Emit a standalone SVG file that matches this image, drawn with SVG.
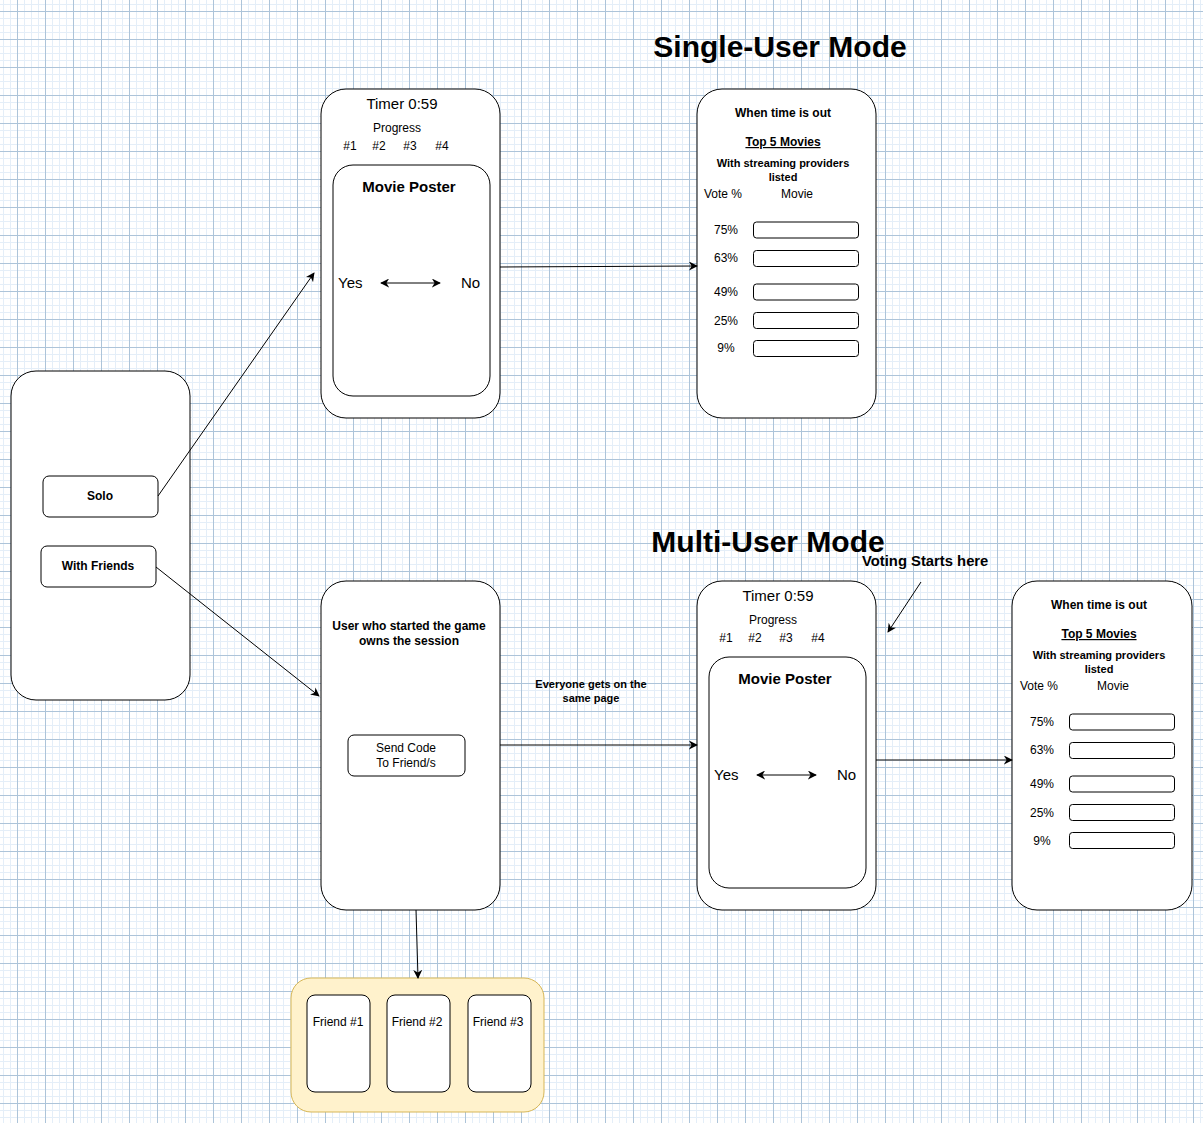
<svg xmlns="http://www.w3.org/2000/svg" width="1203" height="1123" viewBox="0 0 1203 1123">
<defs>
<pattern id="grid" patternUnits="userSpaceOnUse" x="17" y="11" width="28" height="28">
<rect width="28" height="28" fill="#ffffff"/>
<path d="M7.5 0V28M14.5 0V28M21.5 0V28M0 7.5H28M0 14.5H28M0 21.5H28" stroke="#e4eef8" stroke-width="1"/>
<path d="M0.5 0V28M0 0.5H28" stroke="#adc4d9" stroke-width="1"/>
</pattern>
<marker id="arr" viewBox="0 0 10 10" refX="9" refY="5" markerWidth="9" markerHeight="9" markerUnits="userSpaceOnUse" orient="auto">
<path d="M0 0L10 5L0 10L3 5Z" fill="#000"/>
</marker>
<marker id="arrs" viewBox="0 0 10 10" refX="1" refY="5" markerWidth="9" markerHeight="9" markerUnits="userSpaceOnUse" orient="auto">
<path d="M10 0L0 5L10 10L7 5Z" fill="#000"/>
</marker>
</defs>
<style>
.box{fill:#fff;stroke:#000;stroke-width:1}
.t{font-family:"Liberation Sans",Arial,sans-serif;fill:#000}
.c{text-anchor:middle}
.b{font-weight:bold}
.l{fill:none;stroke:#000;stroke-width:1}
</style>
<rect width="1203" height="1123" fill="url(#grid)"/>

<text class="t b c" x="780" y="57" font-size="30">Single-User Mode</text>
<text class="t b c" x="768" y="552" font-size="30">Multi-User Mode</text>
<text class="t b" x="862" y="566" font-size="14.8">Voting Starts here</text>

<g id="start">
<rect class="box" x="11" y="371" width="179" height="329" rx="25"/>
</g>
<g id="solo">
<rect class="box" x="43" y="476" width="115" height="41" rx="6"/>
<text class="t b c" x="100" y="500" font-size="12">Solo</text>
</g>
<g id="friends">
<rect class="box" x="41" y="546" width="115" height="41" rx="6"/>
<text class="t b c" x="98" y="570" font-size="12">With Friends</text>
</g>

<g id="single-vote">
<rect class="box" x="321" y="89" width="179" height="329" rx="25"/>
<text class="t c" x="402" y="109" font-size="15">Timer 0:59</text>
<text class="t c" x="397" y="132" font-size="12">Progress</text>
<text class="t c" x="350" y="150" font-size="12">#1</text>
<text class="t c" x="379" y="150" font-size="12">#2</text>
<text class="t c" x="410" y="150" font-size="12">#3</text>
<text class="t c" x="442" y="150" font-size="12">#4</text>
<rect class="box" x="333" y="165" width="157" height="231" rx="20"/>
<text class="t b c" x="409" y="192" font-size="15">Movie Poster</text>
<text class="t" x="338" y="288" font-size="15">Yes</text>
<text class="t" x="461" y="288" font-size="15">No</text>
<line class="l" x1="381" y1="283" x2="440" y2="283" marker-start="url(#arrs)" marker-end="url(#arr)"/>
</g>

<g id="single-result">
<rect class="box" x="697" y="89" width="179" height="329" rx="25"/>
<text class="t b c" x="783" y="117" font-size="12">When time is out</text>
<text class="t b c" x="783" y="146" font-size="12" text-decoration="underline">Top 5 Movies</text>
<text class="t b c" x="783" y="167" font-size="11">With streaming providers</text>
<text class="t b c" x="783" y="181" font-size="11">listed</text>
<text class="t" x="704" y="198" font-size="12">Vote %</text>
<text class="t" x="781" y="198" font-size="12">Movie</text>
<text class="t c" x="726" y="234" font-size="12">75%</text>
<text class="t c" x="726" y="262" font-size="12">63%</text>
<text class="t c" x="726" y="296" font-size="12">49%</text>
<text class="t c" x="726" y="325" font-size="12">25%</text>
<text class="t c" x="726" y="352" font-size="12">9%</text>
<rect class="box" x="753.5" y="222" width="105" height="16" rx="3"/>
<rect class="box" x="753.5" y="250.5" width="105" height="16" rx="3"/>
<rect class="box" x="753.5" y="284" width="105" height="16" rx="3"/>
<rect class="box" x="753.5" y="312.5" width="105" height="16" rx="3"/>
<rect class="box" x="753.5" y="340.5" width="105" height="16" rx="3"/>
</g>

<g id="session">
<rect class="box" x="321" y="581" width="179" height="329" rx="25"/>
<text class="t b c" x="409" y="630" font-size="12">User who started the game</text>
<text class="t b c" x="409" y="645" font-size="12">owns the session</text>
<rect class="box" x="348" y="735" width="117" height="41" rx="6"/>
<text class="t c" x="406" y="752" font-size="12">Send Code</text>
<text class="t c" x="406" y="767" font-size="12">To Friend/s</text>
</g>

<g id="multi-vote">
<rect class="box" x="697" y="581" width="179" height="329" rx="25"/>
<text class="t c" x="778" y="601" font-size="15">Timer 0:59</text>
<text class="t c" x="773" y="624" font-size="12">Progress</text>
<text class="t c" x="726" y="642" font-size="12">#1</text>
<text class="t c" x="755" y="642" font-size="12">#2</text>
<text class="t c" x="786" y="642" font-size="12">#3</text>
<text class="t c" x="818" y="642" font-size="12">#4</text>
<rect class="box" x="709" y="657" width="157" height="231" rx="20"/>
<text class="t b c" x="785" y="684" font-size="15">Movie Poster</text>
<text class="t" x="714" y="780" font-size="15">Yes</text>
<text class="t" x="837" y="780" font-size="15">No</text>
<line class="l" x1="757" y1="775" x2="816" y2="775" marker-start="url(#arrs)" marker-end="url(#arr)"/>
</g>

<g id="multi-result">
<rect class="box" x="1012" y="581" width="180" height="329" rx="25"/>
<text class="t b c" x="1099" y="609" font-size="12">When time is out</text>
<text class="t b c" x="1099" y="638" font-size="12" text-decoration="underline">Top 5 Movies</text>
<text class="t b c" x="1099" y="659" font-size="11">With streaming providers</text>
<text class="t b c" x="1099" y="673" font-size="11">listed</text>
<text class="t" x="1020" y="690" font-size="12">Vote %</text>
<text class="t" x="1097" y="690" font-size="12">Movie</text>
<text class="t c" x="1042" y="726" font-size="12">75%</text>
<text class="t c" x="1042" y="754" font-size="12">63%</text>
<text class="t c" x="1042" y="788" font-size="12">49%</text>
<text class="t c" x="1042" y="817" font-size="12">25%</text>
<text class="t c" x="1042" y="845" font-size="12">9%</text>
<rect class="box" x="1069.5" y="714" width="105" height="16" rx="3"/>
<rect class="box" x="1069.5" y="742.5" width="105" height="16" rx="3"/>
<rect class="box" x="1069.5" y="776" width="105" height="16" rx="3"/>
<rect class="box" x="1069.5" y="804.5" width="105" height="16" rx="3"/>
<rect class="box" x="1069.5" y="832.5" width="105" height="16" rx="3"/>
</g>

<g id="friends-group">
<rect x="291" y="978" width="253" height="134" rx="20" fill="#fff2cc" stroke="#d6b656" stroke-width="1"/>
<rect class="box" x="307" y="995" width="63" height="97" rx="8"/>
<text class="t c" x="338" y="1026" font-size="12">Friend #1</text>
<rect class="box" x="387" y="995" width="63" height="97" rx="8"/>
<text class="t c" x="417" y="1026" font-size="12">Friend #2</text>
<rect class="box" x="468" y="995" width="63" height="97" rx="8"/>
<text class="t c" x="498" y="1026" font-size="12">Friend #3</text>
</g>

<g id="connectors">
<line class="l" x1="158" y1="496" x2="314" y2="273" marker-end="url(#arr)"/>
<line class="l" x1="156" y1="567" x2="319" y2="696" marker-end="url(#arr)"/>
<line class="l" x1="500" y1="267" x2="697" y2="266" marker-end="url(#arr)"/>
<line class="l" x1="500" y1="745" x2="697" y2="745" marker-end="url(#arr)"/>
<text class="t b c" x="591" y="688" font-size="11">Everyone gets on the</text>
<text class="t b c" x="591" y="702" font-size="11">same page</text>
<line class="l" x1="876" y1="760" x2="1012" y2="760" marker-end="url(#arr)"/>
<line class="l" x1="416" y1="910" x2="418" y2="978" marker-end="url(#arr)"/>
<line class="l" x1="921" y1="582" x2="888" y2="632" marker-end="url(#arr)"/>
</g>
</svg>
